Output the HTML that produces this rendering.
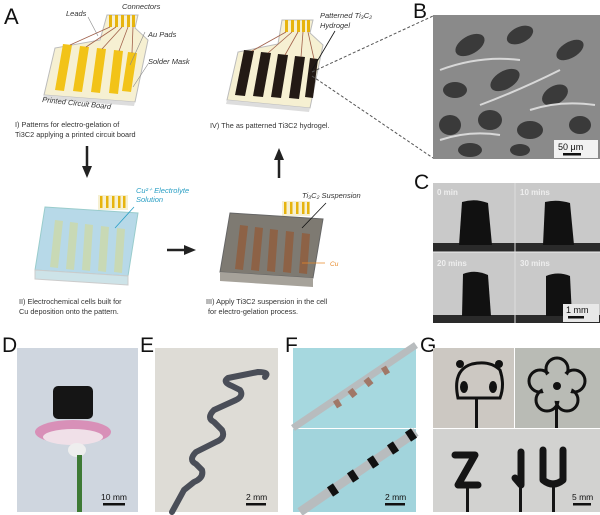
<!DOCTYPE html>
<html><head><meta charset="utf-8"><style>
html,body{margin:0;padding:0;background:#fff;}
svg{display:block;font-family:"Liberation Sans",sans-serif;}
</style></head><body>
<svg width="600" height="515" viewBox="0 0 600 515" xmlns="http://www.w3.org/2000/svg">
<defs>
<marker id="ah" markerUnits="userSpaceOnUse" markerWidth="12" markerHeight="12" refX="4" refY="6" orient="auto"><path d="M0,1 L12,6 L0,11 z" fill="#222"/></marker>
</defs>
<text x="4" y="24" font-size="22" fill="#111">A</text>
<!-- Board I -->
<g>
<path d="M107,15 L138,15 L135,28 L148,40 L135,102 L44,95 L55,48 L100,40 Z" fill="#f6f0d2" stroke="#bbb"/>
<path d="M44,95 L135,102 L134,106 L43,99 Z" fill="#ddd"/>
<g fill="#f2c318">
<path d="M63,44 L72,45 L64,91 L55,90 Z"/><path d="M80,46 L89,47 L82,92 L73,91 Z"/><path d="M97,48 L106,49 L100,93 L91,92 Z"/><path d="M114,50 L123,51 L118,94 L109,93 Z"/><path d="M128,52 L137,53 L131,92 L122,91 Z"/>
</g>
<g fill="#e7b40e"><rect x="109" y="15" width="3" height="12"/><rect x="115" y="15" width="3" height="12"/><rect x="121" y="15" width="3" height="12"/><rect x="127" y="15" width="3" height="12"/><rect x="132" y="15" width="3" height="12"/></g>
<g stroke="#a0604a" stroke-width="0.8" fill="none"><path d="M110,27 L70,45"/><path d="M116,27 L86,47"/><path d="M122,27 L102,49"/><path d="M128,27 L119,51"/><path d="M133,27 L132,53"/></g>
<g font-size="7.5" font-style="italic" fill="#333">
<text x="66" y="16">Leads</text><text x="122" y="9">Connectors</text><text x="148" y="37">Au Pads</text><text x="148" y="64">Solder Mask</text>
<text x="42" y="102" transform="rotate(6 42 102)">Printed Circuit Board</text>
</g>
<g stroke="#888" stroke-width="0.6"><line x1="88" y1="17" x2="98" y2="36"/><line x1="145" y1="32" x2="130" y2="65"/><line x1="148" y1="64" x2="133" y2="87"/></g>
</g>
<g font-size="7.3" fill="#333"><text x="15" y="127">I) Patterns for electro-gelation of</text><text x="15" y="137">Ti3C2  applying a printed circuit board</text></g>
<line x1="87" y1="146" x2="87" y2="170" stroke="#222" stroke-width="2.5" marker-end="url(#ah)"/>
<!-- Board II -->
<g>
<rect x="98" y="195" width="30" height="15" fill="#f6f0d2"/>
<g fill="#e7b40e"><rect x="100" y="196" width="2.5" height="12"/><rect x="106" y="196" width="2.5" height="12"/><rect x="112" y="196" width="2.5" height="12"/><rect x="118" y="196" width="2.5" height="12"/><rect x="123" y="196" width="2.5" height="12"/></g>
<path d="M45,207 L138,213 L128,276 L35,270 Z" fill="#b7d9e8" stroke="#9cc"/>
<path d="M35,270 L128,276 L128,285 L35,279 Z" fill="#cde3e8" stroke="#ccc"/>
<g fill="#c8d9b5"><path d="M55,220 L63,221 L58,268 L50,267 Z"/><path d="M70,222 L78,223 L74,270 L66,269 Z"/><path d="M85,224 L93,225 L90,271 L82,270 Z"/><path d="M101,226 L109,227 L106,272 L98,271 Z"/><path d="M117,228 L125,229 L122,273 L114,272 Z"/></g>
<text x="136" y="193" font-size="7.5" font-style="italic" fill="#2a9fc4">Cu²⁺ Electrolyte</text>
<text x="136" y="202" font-size="7.5" font-style="italic" fill="#2a9fc4">Solution</text>
<line x1="134" y1="207" x2="115" y2="228" stroke="#2a9fc4" stroke-width="0.8"/>
</g>
<g font-size="7.3" fill="#333"><text x="19" y="304">II) Electrochemical cells built for</text><text x="19" y="314">Cu deposition onto the pattern.</text></g>
<line x1="167" y1="250" x2="188" y2="250" stroke="#222" stroke-width="2.5" marker-end="url(#ah)"/>
<!-- Board III -->
<g>
<rect x="282" y="201" width="28" height="15" fill="#f6f0d2"/>
<g fill="#e7b40e"><rect x="284" y="202" width="2.5" height="12"/><rect x="290" y="202" width="2.5" height="12"/><rect x="296" y="202" width="2.5" height="12"/><rect x="302" y="202" width="2.5" height="12"/><rect x="307" y="202" width="2.5" height="12"/></g>
<path d="M230,213 L323,219 L313,278 L220,272 Z" fill="#7e7a72" stroke="#666"/>
<path d="M220,272 L313,278 L313,287 L220,281 Z" fill="#a6a29a"/>
<g fill="#8d6246"><path d="M240,225 L248,226 L243,270 L235,269 Z"/><path d="M255,227 L263,228 L259,271 L251,270 Z"/><path d="M270,229 L278,230 L275,272 L267,271 Z"/><path d="M286,231 L294,232 L291,273 L283,272 Z"/><path d="M302,233 L310,234 L307,274 L299,273 Z"/></g>
<text x="302" y="198" font-size="7.5" font-style="italic" fill="#333">Ti₃C₂ Suspension</text>
<line x1="326" y1="203" x2="302" y2="228" stroke="#111" stroke-width="0.8"/>
<line x1="302" y1="263" x2="325" y2="263" stroke="#e88a2a" stroke-width="0.8"/>
<text x="330" y="266" font-size="6.5" font-style="italic" fill="#e88a2a">Cu</text>
</g>
<g font-size="7.3" fill="#333"><text x="206" y="304">III) Apply Ti3C2 suspension in the cell</text><text x="208" y="314">for electro-gelation process.</text></g>
<line x1="279" y1="178" x2="279" y2="156" stroke="#222" stroke-width="2.5" marker-end="url(#ah)"/>
<!-- Board IV -->
<g>
<path d="M282,20 L313,20 L310,33 L323,45 L310,108 L227,100 L238,52 L278,44 Z" fill="#f6f0d2" stroke="#bbb"/>
<path d="M227,100 L310,108 L309,112 L226,104 Z" fill="#ddd"/>
<g fill="#231a15"><path d="M244,50 L254,51 L245,96 L235,95 Z"/><path d="M261,52 L271,53 L263,97 L253,96 Z"/><path d="M278,54 L288,55 L281,98 L271,97 Z"/><path d="M295,56 L305,57 L299,99 L289,98 Z"/><path d="M310,58 L318,59 L313,98 L305,97 Z"/></g>
<g fill="#e7b40e"><rect x="285" y="20" width="3" height="12"/><rect x="291" y="20" width="3" height="12"/><rect x="297" y="20" width="3" height="12"/><rect x="302" y="20" width="3" height="12"/><rect x="307" y="20" width="3" height="12"/></g>
<g stroke="#a0604a" stroke-width="0.8" fill="none"><path d="M286,32 L252,51"/><path d="M292,32 L268,53"/><path d="M298,32 L285,55"/><path d="M303,32 L301,57"/><path d="M308,32 L314,59"/></g>
<text x="320" y="18" font-size="7.5" font-style="italic" fill="#333">Patterned Ti₃C₂</text>
<text x="320" y="28" font-size="7.5" font-style="italic" fill="#333">Hydrogel</text>
<line x1="335" y1="31" x2="312" y2="70" stroke="#111" stroke-width="0.8"/>
</g>
<text x="210" y="128" font-size="7.3" fill="#333">IV) The as patterned Ti3C2 hydrogel.</text>
<line x1="312" y1="72" x2="433" y2="16" stroke="#555" stroke-width="1" stroke-dasharray="3,2"/>
<line x1="312" y1="76" x2="433" y2="158" stroke="#555" stroke-width="1" stroke-dasharray="3,2"/>
<!-- B -->
<text x="413" y="18" font-size="21" fill="#111">B</text>
<rect x="433" y="15" width="167" height="144" fill="#8a8a8a"/>
<g fill="#3a3a3a">
<ellipse cx="470" cy="45" rx="16" ry="9" transform="rotate(-30 470 45)"/><ellipse cx="520" cy="35" rx="14" ry="8" transform="rotate(-25 520 35)"/><ellipse cx="570" cy="50" rx="15" ry="8" transform="rotate(-30 570 50)"/>
<ellipse cx="455" cy="90" rx="12" ry="8"/><ellipse cx="505" cy="80" rx="16" ry="9" transform="rotate(-30 505 80)"/><ellipse cx="555" cy="95" rx="14" ry="9" transform="rotate(-30 555 95)"/>
<ellipse cx="450" cy="125" rx="11" ry="10"/><ellipse cx="490" cy="120" rx="12" ry="10"/><ellipse cx="530" cy="130" rx="13" ry="9"/><ellipse cx="580" cy="125" rx="11" ry="9"/>
<ellipse cx="470" cy="150" rx="12" ry="7"/><ellipse cx="520" cy="150" rx="10" ry="6"/>
</g>
<g stroke="#d8d8d8" stroke-width="2" fill="none"><path d="M440,70 Q480,55 520,60"/><path d="M480,105 Q520,90 560,70"/><path d="M440,140 Q470,130 500,135"/><path d="M530,110 Q560,100 595,105"/></g>
<rect x="554" y="140" width="44" height="18" fill="#f2f2f2"/>
<text x="558" y="150" font-size="9" fill="#111">50 μm</text><rect x="563" y="153" width="18" height="2.5" fill="#111"/>
<!-- C -->
<text x="414" y="189" font-size="21" fill="#111">C</text>
<rect x="433" y="183" width="167" height="140" fill="#c9c9c9"/>
<rect x="433" y="243" width="167" height="9" fill="#2a2a2a"/><rect x="433" y="315" width="167" height="8" fill="#2a2a2a"/>
<line x1="433" y1="252" x2="600" y2="252" stroke="#eee"/>
<line x1="515" y1="183" x2="515" y2="323" stroke="#ddd"/>
<g fill="#111">
<path d="M462,202 Q475,198 488,203 L492,245 L459,245 Z"/><path d="M545,202 Q557,199 570,203 L574,245 L543,245 Z"/>
<path d="M463,274 Q475,269 488,275 L491,316 L462,316 Z"/><path d="M546,276 Q558,271 570,276 L572,316 L546,316 Z"/>
</g>
<g font-size="8" font-weight="bold" fill="#eee"><text x="437" y="195">0 min</text><text x="520" y="195">10 mins</text><text x="437" y="266">20 mins</text><text x="520" y="266">30 mins</text></g>
<rect x="563" y="304" width="36" height="18" fill="#e8e8e8"/>
<text x="566" y="313" font-size="9" fill="#111">1 mm</text><rect x="568" y="316" width="16" height="2.5" fill="#111"/>
<!-- D -->
<text x="2" y="352" font-size="21" fill="#111">D</text>
<rect x="17" y="348" width="121" height="164" fill="#cfd6df"/>
<rect x="53" y="386" width="40" height="33" rx="5" fill="#151515"/>
<ellipse cx="73" cy="432" rx="38" ry="12" fill="#d890b8"/><ellipse cx="73" cy="437" rx="30" ry="8" fill="#f0e0e8"/>
<ellipse cx="77" cy="450" rx="9" ry="7" fill="#eee"/>
<rect x="77" y="455" width="5" height="57" fill="#3e7a35"/>
<text x="101" y="500" font-size="8.5" fill="#111">10 mm</text><rect x="103" y="503" width="22" height="2.5" fill="#111"/>
<!-- E -->
<text x="140" y="352" font-size="21" fill="#111">E</text>
<rect x="155" y="348" width="123" height="164" fill="#dedcd6"/>
<path d="M265,377 Q270,372 258,372 L228,378 Q222,382 232,386 L240,390 Q244,396 236,400 L214,410 Q206,418 214,422 L222,430 Q226,438 216,442 L196,452 Q188,460 196,464 L202,470 Q204,478 194,482 L184,490 L172,512" fill="none" stroke="#4a4e58" stroke-width="6" stroke-linejoin="round" stroke-linecap="round"/>
<text x="246" y="500" font-size="8.5" fill="#111">2 mm</text><rect x="246" y="503" width="20" height="2.5" fill="#111"/>
<!-- F -->
<text x="285" y="352" font-size="21" fill="#111">F</text>
<rect x="293" y="348" width="123" height="80" fill="#a6d8df"/>
<rect x="293" y="429" width="123" height="83" fill="#a2d4dc"/>
<line x1="293" y1="428" x2="416" y2="345" stroke="#b8bcbe" stroke-width="7"/>
<line x1="300" y1="512" x2="416" y2="432" stroke="#b8bcbe" stroke-width="9"/>
<g stroke="#a07868" stroke-width="8"><line x1="335" y1="405" x2="340" y2="402"/><line x1="350" y1="395" x2="355" y2="391"/><line x1="366" y1="384" x2="371" y2="380"/><line x1="383" y1="372" x2="388" y2="369"/></g>
<g stroke="#111" stroke-width="11"><line x1="330" y1="492" x2="336" y2="488"/><line x1="350" y1="478" x2="356" y2="474"/><line x1="370" y1="464" x2="376" y2="460"/><line x1="390" y1="450" x2="396" y2="446"/><line x1="408" y1="437" x2="414" y2="433"/></g>
<text x="385" y="500" font-size="8.5" fill="#111">2 mm</text><rect x="385" y="503" width="20" height="2.5" fill="#111"/>
<!-- G -->
<text x="420" y="352" font-size="21" fill="#111">G</text>
<rect x="433" y="348" width="81" height="80" fill="#ccc8c2"/>
<rect x="515" y="348" width="85" height="80" fill="#b9bbb5"/>
<rect x="433" y="429" width="167" height="83" fill="#d2d2d0"/>
<g fill="none" stroke="#111" stroke-width="3">
<path d="M458,398 Q452,370 472,364 Q490,360 500,370 Q505,385 500,398 Z"/>
</g>
<g fill="#111"><circle cx="460" cy="364" r="4"/><circle cx="499" cy="364" r="4"/><ellipse cx="464" cy="387" rx="4" ry="6"/><ellipse cx="493" cy="387" rx="4" ry="6"/><rect x="475" y="398" width="3" height="30"/><rect x="555" y="405" width="3" height="23"/></g>
<g fill="none" stroke="#111" stroke-width="3">
<circle cx="557" cy="369" r="11"/><circle cx="574" cy="381" r="11"/><circle cx="567" cy="400" r="11"/><circle cx="547" cy="400" r="11"/><circle cx="540" cy="381" r="11"/>
</g>
<g fill="#b9bbb5"><circle cx="557" cy="386" r="15"/></g>
<circle cx="557" cy="386" r="4" fill="#111"/>
<g fill="none" stroke="#151515" stroke-width="7" stroke-linejoin="round" stroke-linecap="round">
<path d="M455,455 L475,455 L458,485 L478,485"/>
<path d="M521,452 L521,485 L515,478"/>
<path d="M543,450 L543,480 Q553,488 563,480 L563,450"/>
</g>
<g fill="#151515"><rect x="466" y="485" width="3" height="27"/><rect x="519" y="485" width="3" height="27"/><rect x="552" y="485" width="3" height="27"/></g>
<text x="572" y="500" font-size="8.5" fill="#111">5 mm</text><rect x="573" y="503" width="18" height="2.5" fill="#111"/>
</svg>
</body></html>
